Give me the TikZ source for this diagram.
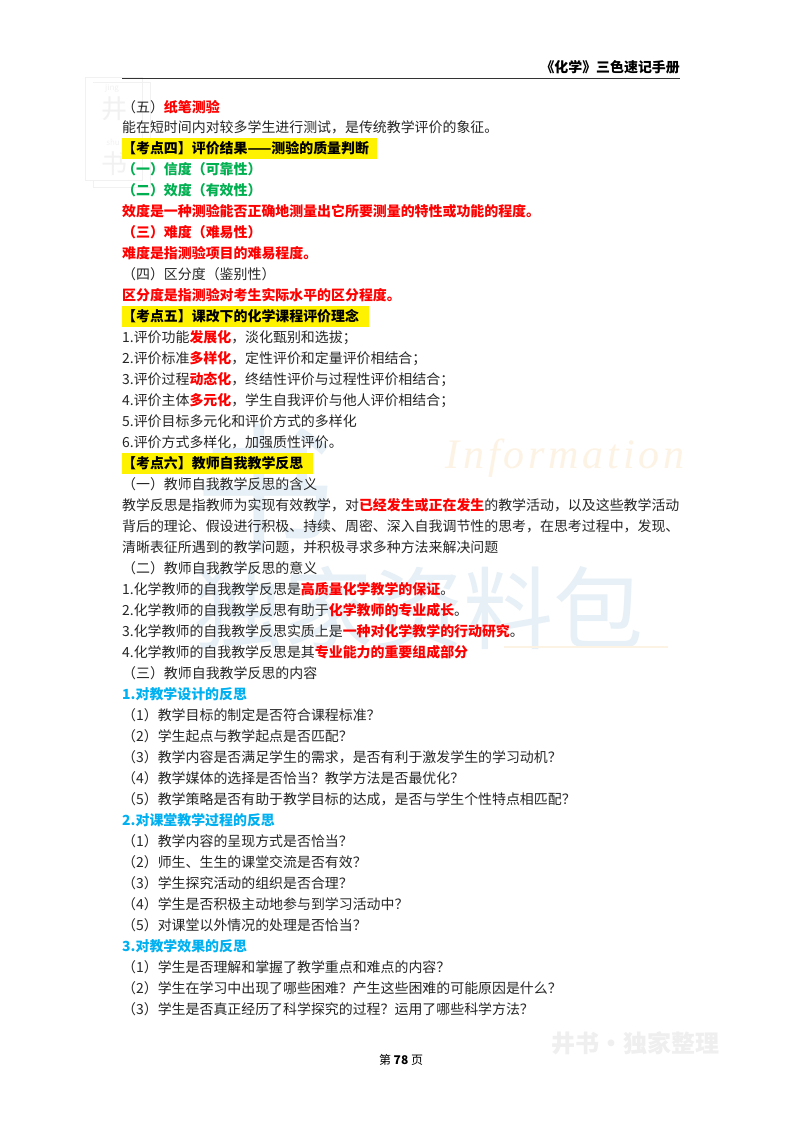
\documentclass[tikz,border=0pt]{standalone}
\usepackage{fontspec}
\setmainfont{Noto Sans CJK SC}
\newfontfamily\latinit[LetterSpace=9]{Liberation Serif}
\definecolor{hotred}{HTML}{FF0000}
\definecolor{leafgreen}{HTML}{00B050}
\definecolor{skyblue}{HTML}{00B0F0}
\definecolor{markblue}{HTML}{E7F0F6}
\definecolor{markorange}{HTML}{FDF3E4}
\definecolor{markgrey}{HTML}{EFEFEF}
\definecolor{logogrey}{HTML}{F1F1F1}
\newcommand{\hot}[1]{{\bfseries\color{hotred}#1}}
\tikzset{
	plain/.style={anchor=west, inner xsep=0pt, inner ysep=3.5pt, text height=12pt, text depth=2pt,
		font=\fontsize{13.93}{14}\selectfont, text=black!85},
	redline/.style={plain, text=hotred, font=\fontsize{13.93}{14}\bfseries\selectfont},
	greenline/.style={plain, text=leafgreen, font=\fontsize{13.93}{14}\bfseries\selectfont},
	blueline/.style={plain, text=skyblue, font=\fontsize{13.93}{14}\bfseries\selectfont},
	hiline/.style={plain, fill=yellow, text=black, font=\fontsize{13.93}{14}\bfseries\selectfont},
	hifour/.style={hiline, text width=255pt},
	hifive/.style={hiline, text width=247pt},
	hisix/.style={hiline, text width=191pt},
	wmark/.style={inner sep=0pt, text=markblue, font=\fontsize{90}{90}\selectfont},
	logomark/.style={inner sep=0pt, text=logogrey},
}
\begin{document}
\begin{tikzpicture}[x=1pt,y=-1pt]
	\useasboundingbox (0,0) rectangle (800,1132);
	\fill[white] (0,0) rectangle (800,1132);
	% watermarks first, the text goes over them
	\draw[logogrey, line width=1pt] (85,77) rectangle (142,180) (93,82) -- (150,82) -- (150,187) -- (93,187) -- (93,180);
	\node[logomark, font=\fontsize{8}{8}\selectfont] (logoa) at (112,88) {jing};
	\node[logomark, font=\fontsize{26}{26}\selectfont] (logob) at (114,109) {井};
	\node[logomark, font=\fontsize{8}{8}\selectfont] (logoc) at (113,142) {shu};
	\node[logomark, font=\fontsize{26}{26}\selectfont] (logod) at (114,164) {书};
	\node[wmark, font=\fontsize{140}{140}\selectfont] (markshu) at (265,488) {书};
	\node[wmark] (markrow) at (418,608) {独家资料包};
	\node[inner sep=0pt, text=markorange, font=\fontsize{42}{42}\latinit\itshape] (markinfo) at (565,458) {Information};
	\draw[markorange, line width=1.5pt] (504,647) -- (668,647);
	\node[inner sep=0pt, text=markgrey, font=\fontsize{24}{24}\bfseries\selectfont] (markfoot) at (635,1043) {井书·独家整理};
	% header
	\node[plain, anchor=east, text=black, font=\fontsize{13.93}{14}\bfseries\selectfont] (title) at (680,68) {《化学》三色速记手册};
	\draw[black!80, line width=0.8pt] (122,78.5) -- (680,78.5);
	% the page, one row after the other
	\foreach \sty/\txt [count=\i from 0] in {
		plain/{（五）\hot{纸笔测验}},
		plain/{能在短时间内对较多学生进行测试，是传统教学评价的象征。},
		hifour/{【考点四】评价结果——测验的质量判断},
		greenline/{（一）信度（可靠性）},
		greenline/{（二）效度（有效性）},
		redline/{效度是一种测验能否正确地测量出它所要测量的特性或功能的程度。},
		redline/{（三）难度（难易性）},
		redline/{难度是指测验项目的难易程度。},
		plain/{（四）区分度（鉴别性）},
		redline/{区分度是指测验对考生实际水平的区分程度。},
		hifive/{【考点五】课改下的化学课程评价理念},
		plain/{1.评价功能\hot{发展化}，淡化甄别和选拔；},
		plain/{2.评价标准\hot{多样化}，定性评价和定量评价相结合；},
		plain/{3.评价过程\hot{动态化}，终结性评价与过程性评价相结合；},
		plain/{4.评价主体\hot{多元化}，学生自我评价与他人评价相结合；},
		plain/{5.评价目标多元化和评价方式的多样化},
		plain/{6.评价方式多样化，加强质性评价。},
		hisix/{【考点六】教师自我教学反思},
		plain/{（一）教师自我教学反思的含义},
		plain/{教学反思是指教师为实现有效教学，对\hot{已经发生或正在发生}的教学活动，以及这些教学活动},
		plain/{背后的理论、假设进行积极、持续、周密、深入自我调节性的思考，在思考过程中，发现、},
		plain/{清晰表征所遇到的教学问题，并积极寻求多种方法来解决问题},
		plain/{（二）教师自我教学反思的意义},
		plain/{1.化学教师的自我教学反思是\hot{高质量化学教学的保证}。},
		plain/{2.化学教师的自我教学反思有助于\hot{化学教师的专业成长}。},
		plain/{3.化学教师的自我教学反思实质上是\hot{一种对化学教学的行动研究}。},
		plain/{4.化学教师的自我教学反思是其\hot{专业能力的重要组成部分}},
		plain/{（三）教师自我教学反思的内容},
		blueline/{1.对教学设计的反思},
		plain/{（1）教学目标的制定是否符合课程标准？},
		plain/{（2）学生起点与教学起点是否匹配？},
		plain/{（3）教学内容是否满足学生的需求，是否有利于激发学生的学习动机？},
		plain/{（4）教学媒体的选择是否恰当？教学方法是否最优化？},
		plain/{（5）教学策略是否有助于教学目标的达成，是否与学生个性特点相匹配？},
		blueline/{2.对课堂教学过程的反思},
		plain/{（1）教学内容的呈现方式是否恰当？},
		plain/{（2）师生、生生的课堂交流是否有效？},
		plain/{（3）学生探究活动的组织是否合理？},
		plain/{（4）学生是否积极主动地参与到学习活动中？},
		plain/{（5）对课堂以外情况的处理是否恰当？},
		blueline/{3.对教学效果的反思},
		plain/{（1）学生是否理解和掌握了教学重点和难点的内容？},
		plain/{（2）学生在学习中出现了哪些困难？产生这些困难的可能原因是什么？},
		plain/{（3）学生是否真正经历了科学探究的过程？运用了哪些科学方法？}}
		\node[\sty] (row\i) at (122,{107+20.98*\i}) {\txt};
	% page number
	\node[plain, anchor=center, text=black, font=\fontsize{12}{12}\selectfont] (pageno) at (401,1059) {第 \textbf{78} 页};
\end{tikzpicture}
\end{document}
